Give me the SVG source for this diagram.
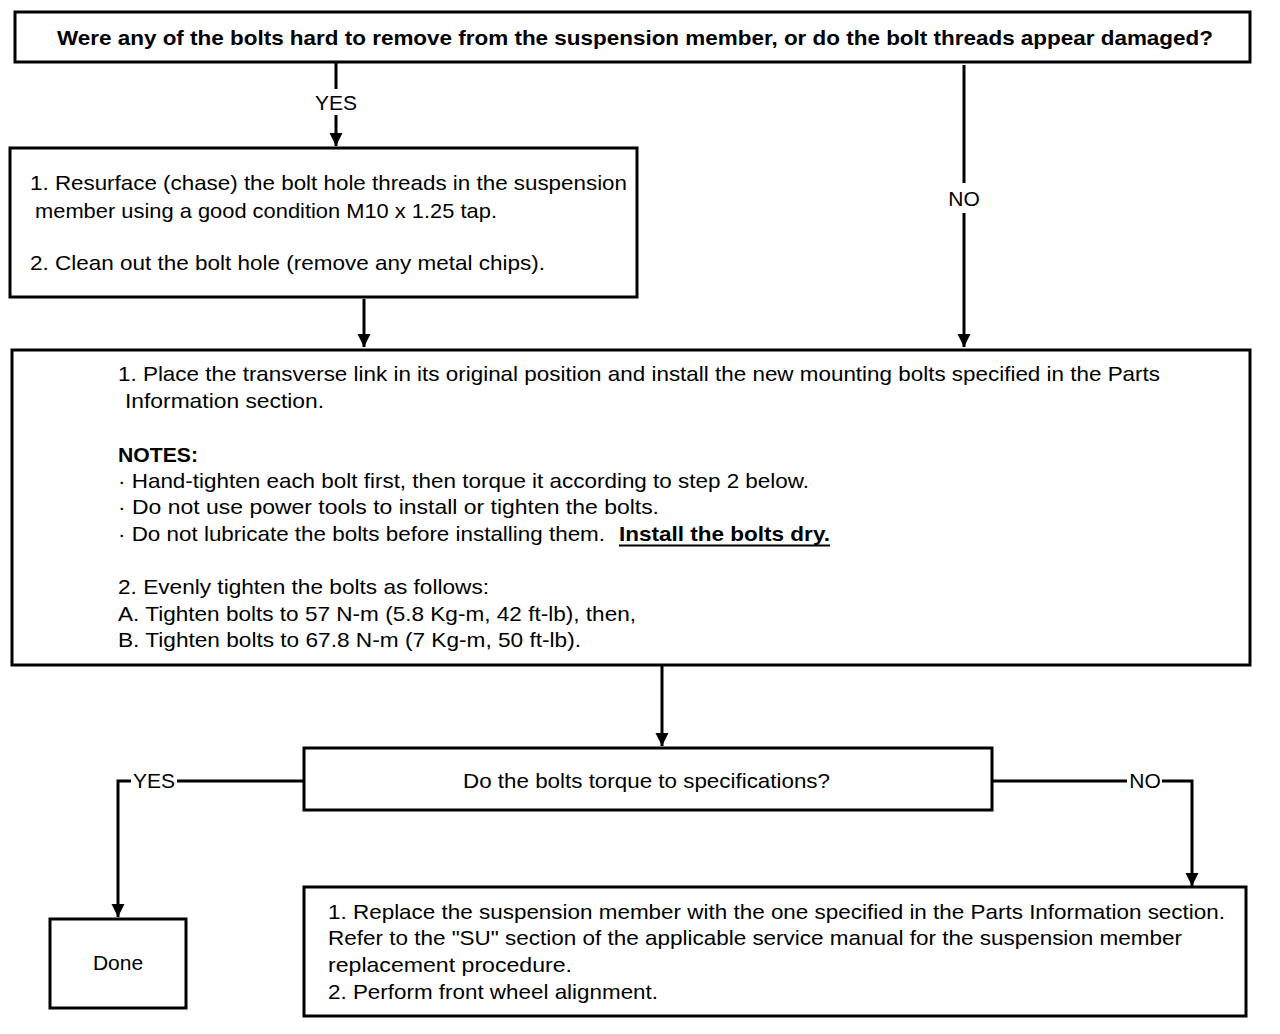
<svg xmlns="http://www.w3.org/2000/svg" width="1280" height="1034" viewBox="0 0 1280 1034">
<style>
.box{fill:#fff;stroke:#000;stroke-width:3}
.t{font-family:"Liberation Sans",Arial,sans-serif;font-size:21px;fill:#000}
.b{font-weight:bold}
.c{stroke:#000;stroke-width:3;fill:none}
</style>
<defs>
<marker id="ah" viewBox="0 0 10 10" refX="10" refY="5" markerWidth="4.5" markerHeight="4.5" markerUnits="strokeWidth" orient="auto">
<path d="M0,0 L10,5 L0,10 z" fill="#000"/>
</marker>
</defs>
<rect width="1280" height="1034" fill="#fff"/>
<g id="connectors">
<line class="c" x1="336" y1="63" x2="336" y2="89"/>
<line class="c" x1="336" y1="115" x2="336" y2="146" marker-end="url(#ah)"/>
<text class="t" x="336" y="110" text-anchor="middle">YES</text>
<line class="c" x1="964" y1="65" x2="964" y2="183"/>
<line class="c" x1="964" y1="213" x2="964" y2="347" marker-end="url(#ah)"/>
<text class="t" x="964" y="206" text-anchor="middle">NO</text>
<line class="c" x1="364" y1="299" x2="364" y2="347" marker-end="url(#ah)"/>
<line class="c" x1="662" y1="666" x2="662" y2="746" marker-end="url(#ah)"/>
<polyline class="c" points="304,781 177,781" stroke-width="4"/>
<polyline class="c" points="131,781 118,781 118,917" marker-end="url(#ah)"/>
<text class="t" x="154" y="788" text-anchor="middle">YES</text>
<polyline class="c" points="992,781 1127,781"/>
<polyline class="c" points="1162,781 1192,781 1192,886" stroke-width="3.5" marker-end="url(#ah)"/>
<text class="t" x="1145" y="788" text-anchor="middle">NO</text>
</g>
<g id="q1">
<rect class="box" x="15" y="12" width="1235" height="50"/>
<text class="t b" x="57" y="45" font-size="20" textLength="1156" lengthAdjust="spacingAndGlyphs">Were any of the bolts hard to remove from the suspension member, or do the bolt threads appear damaged?</text>
</g>
<g id="step1">
<rect class="box" x="10" y="148" width="627" height="149"/>
<text class="t" x="30" y="190" textLength="597" lengthAdjust="spacingAndGlyphs">1. Resurface (chase) the bolt hole threads in the suspension</text>
<text class="t" x="35" y="218" textLength="462" lengthAdjust="spacingAndGlyphs">member using a good condition M10 x 1.25 tap.</text>
<text class="t" x="30" y="270" textLength="515" lengthAdjust="spacingAndGlyphs">2.  Clean out the bolt hole (remove any metal chips).</text>
</g>
<g id="step2">
<rect class="box" x="12" y="350" width="1238" height="315"/>
<text class="t" x="118" y="381" textLength="1042" lengthAdjust="spacingAndGlyphs">1. Place the transverse link in its original position and install the new mounting bolts specified in the Parts</text>
<text class="t" x="125" y="408" textLength="199" lengthAdjust="spacingAndGlyphs">Information section.</text>
<text class="t b" x="118" y="462" textLength="80" lengthAdjust="spacingAndGlyphs">NOTES:</text>
<text class="t" x="118" y="488" textLength="691" lengthAdjust="spacingAndGlyphs">· Hand-tighten each bolt first, then torque it according to step 2 below.</text>
<text class="t" x="118" y="514" textLength="541" lengthAdjust="spacingAndGlyphs">· Do not use power tools to install or tighten the bolts.</text>
<text class="t" x="118" y="541" textLength="487" lengthAdjust="spacingAndGlyphs">· Do not lubricate the bolts before installing them.</text>
<text class="t b" x="619" y="541" textLength="211" lengthAdjust="spacingAndGlyphs">Install the bolts dry.</text>
<line x1="619" y1="545.5" x2="830" y2="545.5" stroke="#000" stroke-width="2"/>
<text class="t" x="118" y="594" textLength="371" lengthAdjust="spacingAndGlyphs">2. Evenly tighten the bolts as follows:</text>
<text class="t" x="118" y="621" textLength="518" lengthAdjust="spacingAndGlyphs">A. Tighten bolts to 57 N-m (5.8 Kg-m, 42 ft-lb), then,</text>
<text class="t" x="118" y="647" textLength="463" lengthAdjust="spacingAndGlyphs">B. Tighten bolts to 67.8 N-m (7 Kg-m, 50 ft-lb).</text>
</g>
<g id="q2">
<rect class="box" x="304" y="748" width="688" height="62"/>
<text class="t" x="463" y="788" textLength="367" lengthAdjust="spacingAndGlyphs">Do the bolts torque to specifications?</text>
</g>
<g id="done">
<rect class="box" x="50" y="919" width="136" height="89"/>
<text class="t" x="118" y="970" text-anchor="middle">Done</text>
</g>
<g id="replace">
<rect class="box" x="304" y="887" width="942" height="129"/>
<text class="t" x="328" y="919" textLength="897" lengthAdjust="spacingAndGlyphs">1. Replace the suspension member with the one specified in the Parts Information section.</text>
<text class="t" x="328" y="945" textLength="854" lengthAdjust="spacingAndGlyphs">Refer to the "SU" section of the applicable service manual for the suspension member</text>
<text class="t" x="328" y="972" textLength="244" lengthAdjust="spacingAndGlyphs">replacement procedure.</text>
<text class="t" x="328" y="999" textLength="330" lengthAdjust="spacingAndGlyphs">2. Perform front wheel alignment.</text>
</g>
</svg>
